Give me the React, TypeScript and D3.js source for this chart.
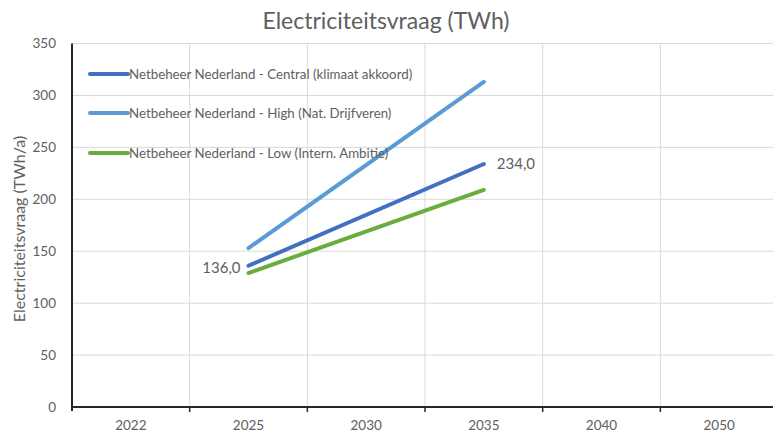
import React, { useEffect, useRef } from "react";
import * as d3 from "d3";

const categories = ["2022", "2025", "2030", "2035", "2040", "2050"];
const seriesNames = [
  "Netbeheer Nederland - Central (klimaat akkoord)",
  "Netbeheer Nederland - High (Nat. Drijfveren)",
  "Netbeheer Nederland - Low (Intern. Ambitie)",
];
const centralValues: (number | null)[] = [null, 136, null, 234, null, null];
const highValues: (number | null)[] = [null, 153, null, 313, null, null];
const lowValues: (number | null)[] = [null, 129, null, 209, null, null];
const yTicks = [0, 50, 100, 150, 200, 250, 300, 350];
const colors = ["#4270c0", "#5b9bd5", "#6aac3e"];

const W = 773;
const H = 436;
const FONT = "Lato, 'Open Sans', sans-serif";
const GRAY = "#606060";

export default function App() {
  const ref = useRef<SVGSVGElement>(null);
  useEffect(() => {
    const svg = d3.select(ref.current);
    svg.selectAll("*").remove();
    const left = 72, right = 778, top = 43.5, bottom = 407;
    const x = d3.scaleBand().domain(categories).range([left, right]);
    const y = d3.scaleLinear().domain([0, 350]).range([bottom, top]);

    // horizontal gridlines
    svg.append("g").selectAll("line").data(yTicks.filter(t => t > 0)).join("line")
      .attr("x1", left).attr("x2", W).attr("y1", d => y(d)).attr("y2", d => y(d))
      .attr("stroke", "#d9d9d9").attr("stroke-width", 1);
    // vertical gridlines at category boundaries
    svg.append("g").selectAll("line").data(categories.slice(1)).join("line")
      .attr("x1", d => x(d)!).attr("x2", d => x(d)!).attr("y1", top).attr("y2", bottom)
      .attr("stroke", "#d9d9d9").attr("stroke-width", 1);

    // y tick labels
    svg.append("g").selectAll("text").data(yTicks).join("text")
      .attr("x", 56).attr("y", d => y(d)).attr("dy", "0.35em")
      .attr("text-anchor", "end").attr("font-family", FONT).attr("font-size", 13.5)
      .attr("fill", GRAY).text(d => String(d));

    // x tick labels
    svg.append("g").selectAll("text").data(categories).join("text")
      .attr("x", d => x(d)! + x.bandwidth() / 2).attr("y", 425).attr("dy", "0.35em")
      .attr("text-anchor", "middle").attr("font-family", FONT).attr("font-size", 13.5)
      .attr("fill", GRAY).text(d => d);

    // axes
    svg.append("line").attr("x1", left).attr("x2", left).attr("y1", top).attr("y2", bottom + 4)
      .attr("stroke", "#262626").attr("stroke-width", 2);
    svg.append("line").attr("x1", left).attr("x2", W).attr("y1", bottom).attr("y2", bottom)
      .attr("stroke", "#262626").attr("stroke-width", 2);
    svg.append("g").selectAll("line").data(categories.slice(1)).join("line")
      .attr("x1", d => x(d)!).attr("x2", d => x(d)!).attr("y1", bottom).attr("y2", bottom + 5)
      .attr("stroke", "#262626").attr("stroke-width", 1.5);

    // lines
    const allSeries = [centralValues, highValues, lowValues];
    const drawOrder = [1, 0, 2];
    const line = d3.line<[string, number | null]>()
      .defined(d => d[1] !== null)
      .x(d => x(d[0])! + x.bandwidth() / 2)
      .y(d => y(d[1] as number));
    drawOrder.forEach(i => {
      const pts = categories.map((c, j) => [c, allSeries[i][j]] as [string, number | null])
        .filter(d => d[1] !== null);
      svg.append("path").datum(pts).attr("d", line)
        .attr("fill", "none").attr("stroke", colors[i]).attr("stroke-width", 4)
        .attr("stroke-linecap", "round");
    });

    // data labels for central
    const cPts = categories.map((c, j) => [c, centralValues[j]] as [string, number | null]).filter(d => d[1] !== null);
    const fmt = (v: number) => v.toFixed(1).replace(".", ",");
    svg.append("text").attr("x", x(cPts[0][0])! + x.bandwidth() / 2 - 8).attr("y", y(cPts[0][1] as number) + 2)
      .attr("dy", "0.35em").attr("text-anchor", "end").attr("font-family", FONT).attr("font-size", 15)
      .attr("fill", GRAY).text(fmt(cPts[0][1] as number));
    svg.append("text").attr("x", x(cPts[1][0])! + x.bandwidth() / 2 + 13).attr("y", y(cPts[1][1] as number))
      .attr("dy", "0.35em").attr("text-anchor", "start").attr("font-family", FONT).attr("font-size", 15)
      .attr("fill", GRAY).text(fmt(cPts[1][1] as number));

    // legend
    const ly = [74, 113, 153];
    seriesNames.forEach((n, i) => {
      svg.append("line").attr("x1", 90).attr("x2", 128).attr("y1", ly[i]).attr("y2", ly[i])
        .attr("stroke", colors[i]).attr("stroke-width", 4).attr("stroke-linecap", "round");
      svg.append("text").attr("x", 129).attr("y", ly[i]).attr("dy", "0.35em")
        .attr("font-family", FONT).attr("font-size", 13.3).attr("fill", GRAY).text(n);
    });

    // title
    svg.append("text").attr("x", 386).attr("y", 21).attr("dy", "0.35em").attr("text-anchor", "middle")
      .attr("font-family", FONT).attr("font-size", 23).attr("fill", GRAY).text("Electriciteitsvraag (TWh)");
    // y-axis title
    svg.append("text").attr("transform", "translate(19,229) rotate(-90)").attr("dy", "0.35em")
      .attr("text-anchor", "middle").attr("font-family", FONT).attr("font-size", 16)
      .attr("fill", GRAY).text("Electriciteitsvraag (TWh/a)");
  }, []);
  return (
    <svg ref={ref} width={W} height={H}
      style={{ position: "absolute", left: 0, top: 0, background: "#fff", display: "block" }} />
  );
}
